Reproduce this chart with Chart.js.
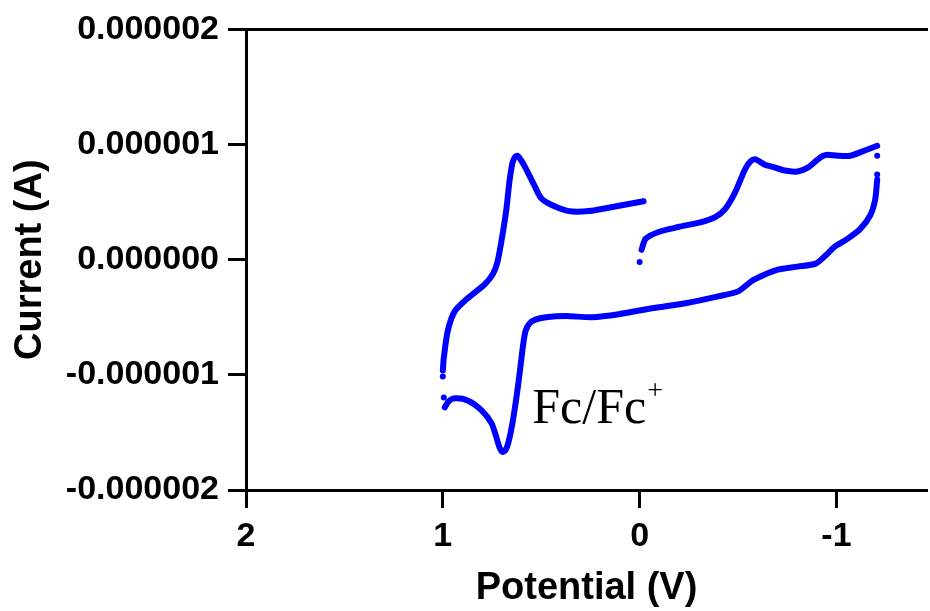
<!DOCTYPE html>
<html>
<head>
<meta charset="utf-8">
<style>
  html, body { margin: 0; padding: 0; background: #ffffff; }
  canvas { display: block; }
</style>
<script src="https://cdn.jsdelivr.net/npm/chart.js@4.4.1/dist/chart.umd.min.js"></script>
</head>
<body>
<canvas id="cv" width="930" height="611"></canvas>
<script>
// Cyclic voltammogram, potentials in V, currents in microamperes (converted to A below)

// Forward sweep 0 V -> -1.2 V
const fwdV = [-0.010, -0.030, -0.096, -0.197, -0.313, -0.384, -0.434, -0.485, -0.535, -0.562, -0.586, -0.610, -0.636, -0.677, -0.737, -0.803, -0.854, -0.904, -0.930, -0.955, -1.005, -1.071, -1.141, -1.207];
const fwdI = [0.086, 0.181, 0.241, 0.284, 0.327, 0.370, 0.439, 0.585, 0.783, 0.852, 0.872, 0.852, 0.825, 0.806, 0.774, 0.766, 0.800, 0.869, 0.900, 0.912, 0.903, 0.903, 0.946, 0.989];

// Reverse sweep -1.2 V -> +1.0 V
const revV = [-1.207, -1.197, -1.172, -1.121, -1.056, -0.990, -0.949, -0.894, -0.803, -0.702, -0.636, -0.566, -0.500, -0.399, -0.232, -0.061, 0.106, 0.242, 0.374, 0.475, 0.530, 0.560, 0.580, 0.592, 0.605, 0.621, 0.646, 0.667, 0.682, 0.697, 0.712, 0.730, 0.753, 0.803, 0.874, 0.939, 0.970, 0.990];
const revI = [0.697, 0.525, 0.387, 0.267, 0.181, 0.112, 0.043, -0.034, -0.060, -0.086, -0.129, -0.189, -0.275, -0.318, -0.378, -0.422, -0.473, -0.499, -0.490, -0.499, -0.520, -0.555, -0.620, -0.740, -0.920, -1.135, -1.419, -1.590, -1.655, -1.669, -1.630, -1.530, -1.419, -1.308, -1.222, -1.204, -1.230, -1.282];

// Return sweep +1.0 V -> 0 V
const retV = [1.000, 0.995, 0.975, 0.939, 0.874, 0.788, 0.747, 0.722, 0.697, 0.677, 0.662, 0.646, 0.632, 0.621, 0.605, 0.586, 0.560, 0.535, 0.500, 0.444, 0.359, 0.258, 0.172, 0.091, -0.020];
const retI = [-0.963, -0.852, -0.619, -0.447, -0.335, -0.215, -0.129, -0.017, 0.215, 0.439, 0.671, 0.843, 0.895, 0.903, 0.870, 0.817, 0.730, 0.645, 0.533, 0.473, 0.422, 0.422, 0.447, 0.473, 0.508];

// Sparse samples at the start and at the switching potentials
const dotV = [0.000, -1.207, -1.207, 0.995, 1.000];
const dotI = [-0.020, 0.903, 0.740, -1.196, -1.015];

// Axis ticks
const xTicks = [2, 1, 0, -1];
const yTicks = [-0.000002, -0.000001, 0, 0.000001, 0.000002];

const MICRO = 1e-6;
const toPoints = (vs, is) => vs.map((v, k) => ({ x: v, y: is[k] * MICRO }));

const BLUE = '#0000ff';
const SANS = "'Liberation Sans', Arial, Helvetica, sans-serif";

const curveStyle = {
  showLine: true,
  borderColor: BLUE,
  backgroundColor: BLUE,
  borderWidth: 6,
  pointRadius: 0,
  pointHoverRadius: 0,
  tension: 0.25,
  borderCapStyle: 'round',
  borderJoinStyle: 'round',
  fill: false
};

// Couple label written in the plot
const coupleLabel = {
  id: 'coupleLabel',
  afterDatasetsDraw(chart) {
    const { ctx, scales } = chart;
    const px = scales.x.getPixelForValue(0.5455);
    const py = scales.y.getPixelForValue(-1.419 * MICRO);
    ctx.save();
    ctx.fillStyle = '#000000';
    ctx.textAlign = 'left';
    ctx.textBaseline = 'alphabetic';
    ctx.font = "50px 'Liberation Serif', 'Times New Roman', serif";
    const main = 'Fc/Fc';
    ctx.fillText(main, px, py);
    const w = ctx.measureText(main).width;
    ctx.font = "28px 'Liberation Serif', 'Times New Roman', serif";
    ctx.fillText('+', px + w + 1, py - 24);
    ctx.restore();
  }
};

const tickFont = { family: SANS, size: 34, weight: 'bold' };
const titleFont = { family: SANS, size: 38, weight: 'bold' };

new Chart(document.getElementById('cv'), {
  type: 'scatter',
  data: {
    datasets: [
      Object.assign({ data: toPoints(fwdV, fwdI) }, curveStyle),
      Object.assign({ data: toPoints(revV, revI) }, curveStyle),
      Object.assign({ data: toPoints(retV, retI) }, curveStyle),
      {
        data: toPoints(dotV, dotI),
        showLine: false,
        pointRadius: 3,
        pointHoverRadius: 3,
        pointBorderWidth: 0,
        pointBackgroundColor: BLUE,
        pointBorderColor: BLUE
      }
    ]
  },
  options: {
    responsive: false,
    devicePixelRatio: 1,
    animation: false,
    events: [],
    layout: { padding: { top: 25, left: 5, right: 0, bottom: 0 } },
    plugins: {
      legend: { display: false },
      tooltip: { enabled: false }
    },
    scales: {
      x: {
        type: 'linear',
        position: 'bottom',
        reverse: true,
        min: -1.46,
        max: 2,
        afterBuildTicks: s => { s.ticks = xTicks.map(v => ({ value: v })); },
        afterFit: s => { s.height = 121; },
        ticks: {
          color: '#000000',
          font: tickFont,
          padding: 8,
          maxRotation: 0,
          autoSkip: false,
          callback: v => String(v)
        },
        grid: {
          drawOnChartArea: false,
          drawTicks: true,
          tickLength: 18,
          tickWidth: 3,
          tickColor: '#000000',
          color: '#000000'
        },
        border: { display: true, color: '#000000', width: 3 },
        title: {
          display: true,
          text: 'Potential (V)',
          color: '#000000',
          font: titleFont,
          padding: { top: 0, bottom: 0 }
        }
      },
      x2: {
        type: 'linear',
        position: 'top',
        min: -1.46,
        max: 2,
        reverse: true,
        afterFit: s => { s.height = 0; },
        ticks: { display: false },
        grid: { drawOnChartArea: false, drawTicks: false, color: '#000000' },
        border: { display: true, color: '#000000', width: 3 }
      },
      y: {
        type: 'linear',
        position: 'left',
        min: -0.000002,
        max: 0.000002,
        afterBuildTicks: s => { s.ticks = yTicks.map(v => ({ value: v })); },
        afterFit: s => { s.width = 241; },
        ticks: {
          color: '#000000',
          font: tickFont,
          padding: 9,
          autoSkip: false,
          callback: v => Number(v).toFixed(6)
        },
        grid: {
          drawOnChartArea: false,
          drawTicks: true,
          tickLength: 18,
          tickWidth: 3,
          tickColor: '#000000',
          color: '#000000'
        },
        border: { display: true, color: '#000000', width: 3 },
        title: {
          display: true,
          text: 'Current (A)',
          color: '#000000',
          font: titleFont,
          padding: { top: 3, bottom: 0 }
        }
      }
    }
  },
  plugins: [coupleLabel]
});
</script>
</body>
</html>
